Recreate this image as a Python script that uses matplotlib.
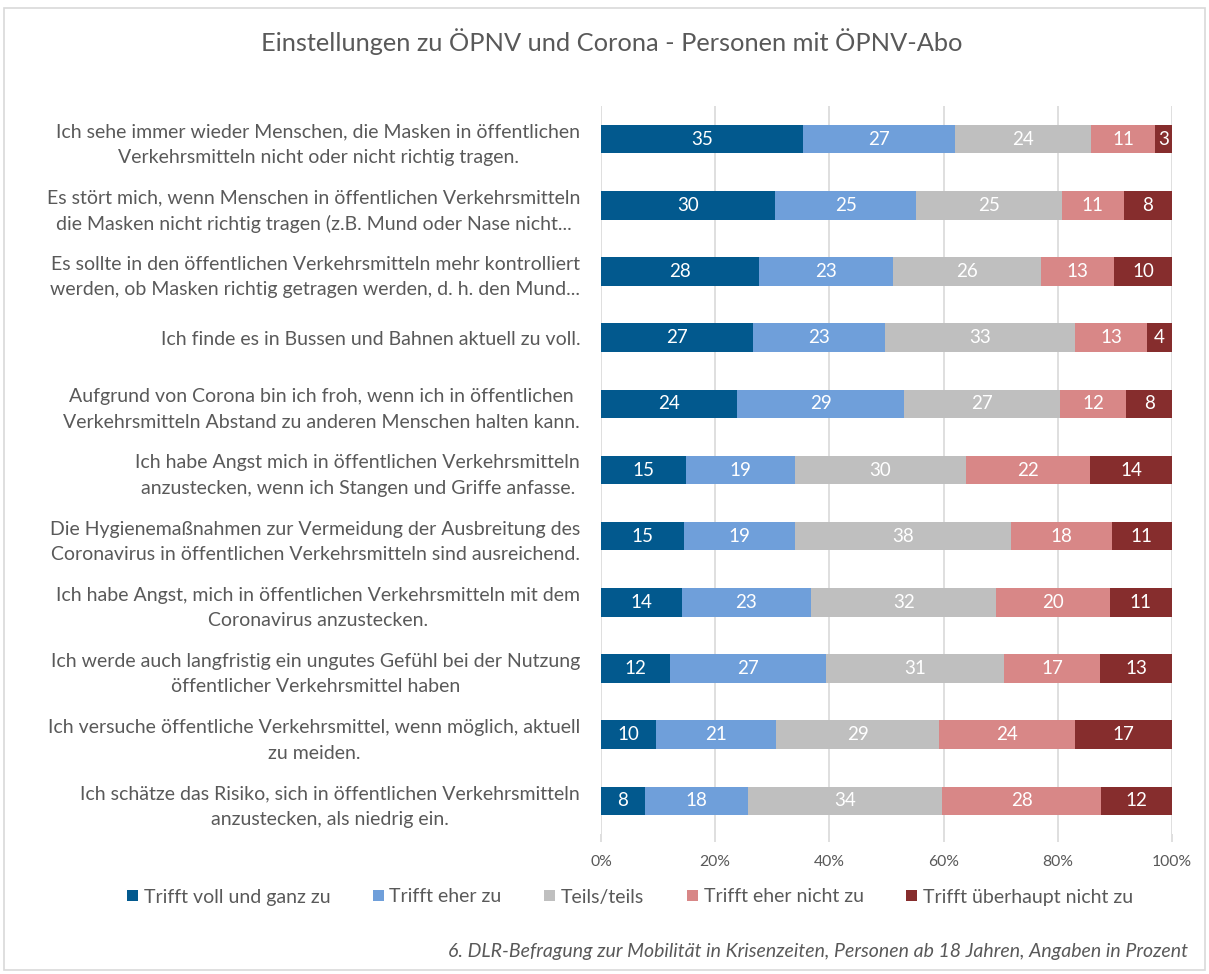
import matplotlib
matplotlib.use("Agg")
import matplotlib.pyplot as plt
from matplotlib.patches import Rectangle
import numpy as np

plt.rcParams['font.family'] = ['Lato', 'DejaVu Sans']

categories = [
    "Ich sehe immer wieder Menschen, die Masken in öffentlichen\nVerkehrsmitteln nicht oder nicht richtig tragen.",
    "Es stört mich, wenn Menschen in öffentlichen Verkehrsmitteln\ndie Masken nicht richtig tragen (z.B. Mund oder Nase nicht...",
    "Es sollte in den öffentlichen Verkehrsmitteln mehr kontrolliert\nwerden, ob Masken richtig getragen werden, d. h. den Mund...",
    "Ich finde es in Bussen und Bahnen aktuell zu voll.",
    "Aufgrund von Corona bin ich froh, wenn ich in öffentlichen\nVerkehrsmitteln Abstand zu anderen Menschen halten kann.",
    "Ich habe Angst mich in öffentlichen Verkehrsmitteln\nanzustecken, wenn ich Stangen und Griffe anfasse.",
    "Die Hygienemaßnahmen zur Vermeidung der Ausbreitung des\nCoronavirus in öffentlichen Verkehrsmitteln sind ausreichend.",
    "Ich habe Angst, mich in öffentlichen Verkehrsmitteln mit dem\nCoronavirus anzustecken.",
    "Ich werde auch langfristig ein ungutes Gefühl bei der Nutzung\nöffentlicher Verkehrsmittel haben",
    "Ich versuche öffentliche Verkehrsmittel, wenn möglich, aktuell\nzu meiden.",
    "Ich schätze das Risiko, sich in öffentlichen Verkehrsmitteln\nanzustecken, als niedrig ein.",
]

series_names = ["Trifft voll und ganz zu", "Trifft eher zu", "Teils/teils",
                "Trifft eher nicht zu", "Trifft überhaupt nicht zu"]

voll_und_ganz = [35.3, 30.4, 27.7, 26.7, 23.9, 14.9, 14.6, 14.1, 12.1, 9.6, 7.7]
eher_zu       = [26.7, 24.7, 23.4, 23.1, 29.2, 19.1, 19.4, 22.7, 27.4, 21.1, 18.0]
teils_teils   = [23.9, 25.4, 25.9, 33.2, 27.2, 29.9, 37.9, 32.4, 31.1, 28.6, 34.0]
eher_nicht    = [11.2, 10.9, 12.8, 12.6, 11.7, 21.8, 17.7, 19.9, 16.9, 23.8, 27.9]
ueberhaupt    = [2.9, 8.4, 10.1, 4.4, 8.0, 14.3, 10.6, 10.9, 12.6, 17.0, 12.4]

xtick_labels = ["0%", "20%", "40%", "60%", "80%", "100%"]

colors = ["#02598E", "#6F9FDA", "#BFBFBF", "#D88787", "#862D2D"]
text_color = "#595959"
grid_color = "#D9D9D9"

W, H = 1209, 974
fig = plt.figure(figsize=(W / 100, H / 100), dpi=100)

# chart border
fig.patches.append(Rectangle((4 / W, 4 / H), (W - 8) / W, (H - 12) / H,
                             transform=fig.transFigure, fill=False,
                             edgecolor=grid_color, linewidth=1.2))

ax = fig.add_axes([601 / W, 1 - 834 / H, 571 / W, 728 / H])

data = np.array([voll_und_ganz, eher_zu, teils_teils, eher_nicht, ueberhaupt])
totals = data.sum(axis=0)
pct = data / totals * 100.0

y = np.arange(len(categories))
left = np.zeros(len(categories))
for i in range(len(series_names)):
    bars = ax.barh(y, pct[i], left=left, height=0.43, color=colors[i],
                   label=series_names[i], zorder=3)
    labels = [f"{int(np.floor(v + 0.5))}" for v in data[i]]
    ax.bar_label(bars, labels=labels, label_type='center', color='white',
                 fontsize=13.5, zorder=4)
    left += pct[i]

ax.set_xlim(0, 100)
ax.set_ylim(len(categories) - 0.5, -0.5)
ax.set_xticks(np.arange(0, 101, 20))
ax.set_xticklabels(xtick_labels, color=text_color, fontsize=11.3)
ax.set_yticks(y)
ax.set_yticklabels(categories, color=text_color, fontsize=14,
                   multialignment='center', linespacing=1.6)
ax.tick_params(axis='y', length=0, pad=15)
ax.tick_params(axis='x', length=6, color=grid_color, width=1.2, pad=9)
ax.grid(axis='x', color=grid_color, linewidth=1.2, zorder=0)
for s in ax.spines.values():
    s.set_visible(False)

fig.text(612 / W, 1 - 42 / H, "Einstellungen zu ÖPNV und Corona - Personen mit ÖPNV-Abo",
         ha='center', va='center', fontsize=18.3, color=text_color)

handles, lbls = ax.get_legend_handles_labels()
fig.legend(handles, lbls, loc='center', bbox_to_anchor=(630 / W, 1 - 897 / H),
           ncol=5, frameon=False, fontsize=14, handlelength=0.55,
           handleheight=0.55, handletextpad=0.3, columnspacing=2.2,
           labelcolor=text_color)

fig.text(1188 / W, 1 - 952 / H,
         "6. DLR-Befragung zur Mobilität in Krisenzeiten, Personen ab 18 Jahren, Angaben in Prozent",
         ha='right', va='center', fontsize=14, style='italic', color=text_color)

fig.savefig("out.png", dpi=100)
